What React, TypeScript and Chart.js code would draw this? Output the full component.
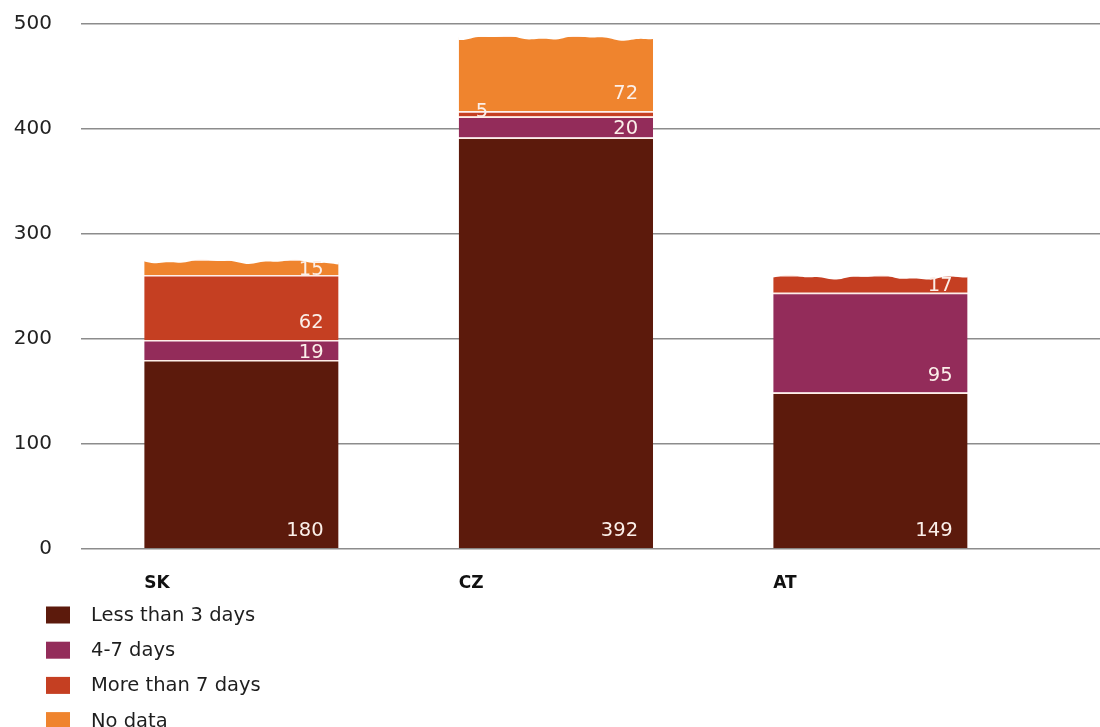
import React, { useEffect, useRef } from 'react';
import { Chart, registerables } from 'chart.js';

Chart.register(...registerables);

const categories = ['SK', 'CZ', 'AT'];
const seriesNames = ['Less than 3 days', '4-7 days', 'More than 7 days', 'No data'];
const lessThan3Days = [180, 392, 149];
const fourToSevenDays = [19, 20, 95];
const moreThan7Days = [62, 5, 17];
const noData: (number | null)[] = [15, 72, null];
const yTicks = [0, 100, 200, 300, 400, 500];
const seriesColors = ['#5c1a0c', '#932c5a', '#c53f22', '#ef842e'];

const BAR_FRACTION = 0.618;
const FONT = '"DejaVu Sans", "Liberation Sans", Arial, sans-serif';

const seriesValues = [lessThan3Days, fourToSevenDays, moreThan7Days, noData];

// Decorative torn/wavy top edge on the highest segment of each bar
const wavyTops = {
  id: 'wavyTops',
  afterDatasetsDraw(chart: any) {
    const ctx = chart.ctx;
    const tops: Record<number, any> = {};
    chart.data.datasets.forEach((ds: any, di: number) => {
      chart.getDatasetMeta(di).data.forEach((el: any, i: number) => {
        if (ds.data[i].y == null) return;
        const p = el.getProps(['x', 'y', 'base', 'width'], true);
        if (!tops[i] || p.y < tops[i].y) tops[i] = p;
      });
    });
    ctx.save();
    Object.keys(tops).forEach((k) => {
      const i = Number(k);
      const { x, y, width } = tops[i];
      const left = x - width / 2;
      const right = x + width / 2;
      const steps = 80;
      ctx.beginPath();
      ctx.moveTo(left - 1, y - 1.5);
      for (let s = 0; s <= steps; s++) {
        const t = s / steps;
        const wy =
          y + 2.2 +
          1.6 * Math.sin(t * Math.PI * 2 * 2.3 + i * 1.7) +
          0.8 * Math.sin(t * Math.PI * 2 * 6.1 + i * 0.9) +
          1.2 * t * t * t;
        ctx.lineTo(left + t * width, wy);
      }
      ctx.lineTo(right + 1, y - 1.5);
      ctx.closePath();
      ctx.fillStyle = '#ffffff';
      ctx.fill();
    });
    ctx.restore();
  },
};

const segmentLabels = {
  id: 'segmentLabels',
  afterDatasetsDraw(chart: any) {
    const ctx = chart.ctx;
    ctx.save();
    ctx.font = `19.5px ${FONT}`;
    ctx.fillStyle = '#fbefe9';
    ctx.textBaseline = 'middle';
    chart.data.datasets.forEach((ds: any, di: number) => {
      const meta = chart.getDatasetMeta(di);
      meta.data.forEach((el: any, i: number) => {
        const v = ds.data[i].y;
        if (v == null) return;
        const { x, y, base, width } = el.getProps(['x', 'y', 'base', 'width'], true);
        const h = base - y;
        const left = x - width / 2;
        const right = x + width / 2;
        if (h < 12) {
          ctx.textAlign = 'left';
          ctx.fillText(String(v), left + 17, (y + base) / 2 - 2);
        } else {
          ctx.textAlign = 'right';
          ctx.fillText(String(v), right - 15, Math.max(base - 17, (y + base) / 2 + 2.5));
        }
      });
    });
    ctx.restore();
  },
};

const listLegend = {
  id: 'listLegend',
  afterDraw(chart: any) {
    const ctx = chart.ctx;
    const top = chart.chartArea.bottom;
    ctx.save();
    ctx.font = `19.5px ${FONT}`;
    ctx.textBaseline = 'middle';
    ctx.textAlign = 'left';
    chart.data.datasets.forEach((ds: any, i: number) => {
      const yc = top + 66 + i * 35.2;
      ctx.fillStyle = ds.backgroundColor;
      ctx.fillRect(46, yc - 8.5, 24, 17);
      ctx.fillStyle = '#1e1e1e';
      ctx.fillText(ds.label, 91, yc + 1);
    });
    ctx.restore();
  },
};

export default function App() {
  const ref = useRef<HTMLCanvasElement>(null);

  useEffect(() => {
    const datasets = seriesNames.map((name, si) => ({
      label: name,
      data: seriesValues[si].map((v, i) => ({ x: i, y: v })),
      backgroundColor: seriesColors[si],
      borderColor: 'rgba(255, 236, 230, 0.9)',
      borderWidth: { top: 1.5, right: 0, bottom: 0, left: 0 },
      borderSkipped: 'start',
      categoryPercentage: 1,
      barPercentage: BAR_FRACTION,
    }));

    const chart = new Chart(ref.current as HTMLCanvasElement, {
      type: 'bar',
      data: { datasets } as any,
      options: {
        responsive: false,
        animation: false,
        layout: { padding: { top: 24, left: 0, right: 0, bottom: 0 } },
        plugins: {
          legend: { display: false },
          tooltip: { enabled: false },
        },
        scales: {
          x: {
            type: 'linear',
            stacked: true,
            offset: false,
            min: -0.51,
            max: 2.73,
            bounds: 'data',
            afterBuildTicks: (s: any) => {
              s.ticks = categories.map((_, i) => ({ value: i - BAR_FRACTION / 2 }));
            },
            afterFit: (s: any) => {
              s.height = 178;
            },
            grid: { display: false, drawTicks: false },
            border: { display: false },
            ticks: {
              align: 'start',
              autoSkip: false,
              maxRotation: 0,
              padding: 24,
              color: '#111',
              font: { family: FONT, size: 17, weight: 'bold' },
              callback: (_v: any, i: number) => categories[i],
            },
          },
          y: {
            stacked: true,
            min: 0,
            max: 500,
            afterBuildTicks: (s: any) => {
              s.ticks = yTicks.map((v) => ({ value: v }));
            },
            afterFit: (s: any) => {
              s.width = 81;
              s.paddingTop = 10;
              s.paddingBottom = 10;
            },
            grid: { color: '#8c8c8c', lineWidth: 1.5, drawTicks: false },
            border: { display: false },
            ticks: {
              padding: 29,
              color: '#222',
              font: { family: FONT, size: 20 },
            },
          },
        },
      } as any,
      plugins: [wavyTops, segmentLabels, listLegend],
    });
    return () => chart.destroy();
  }, []);

  return (
    <div style={{ position: 'absolute', left: 0, top: 0, width: 1100, height: 727, background: '#fff' }}>
      <canvas ref={ref} width={1100} height={727} style={{ display: 'block' }} />
    </div>
  );
}
